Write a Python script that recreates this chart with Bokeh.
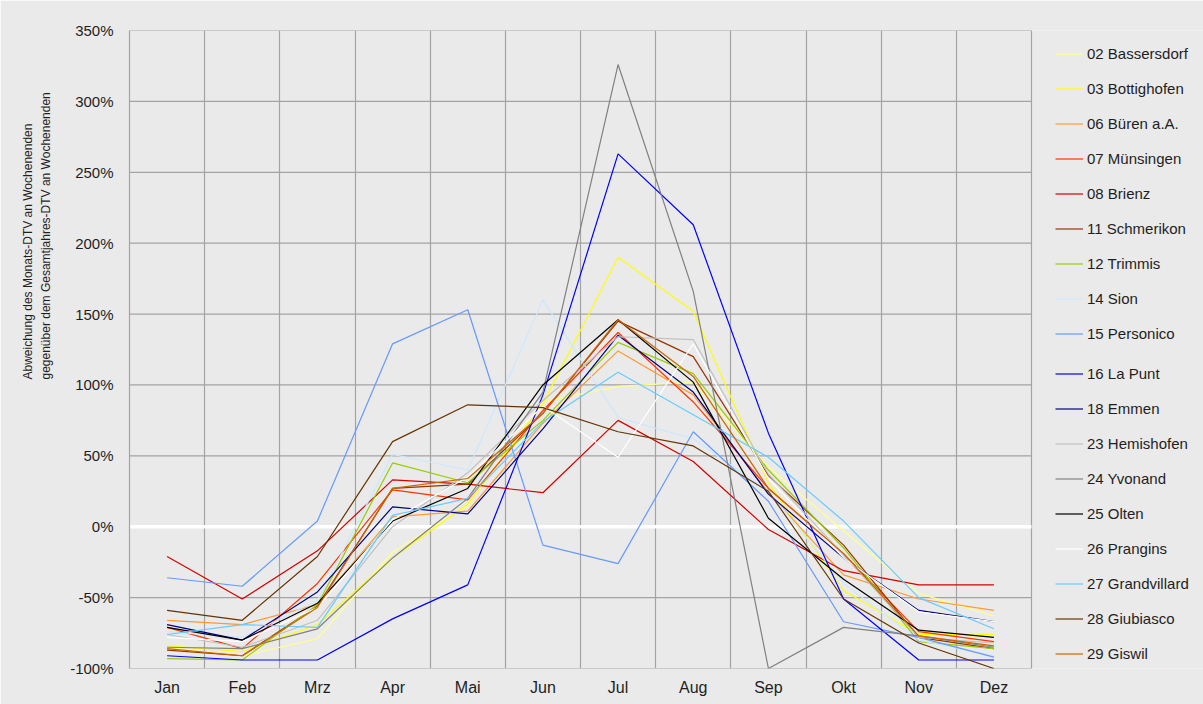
from bokeh.plotting import figure
from bokeh.models import Range1d, FixedTicker, PrintfTickFormatter, Legend, LegendItem, Title
from bokeh.embed import file_html
from bokeh.resources import INLINE

months = ["Jan", "Feb", "Mrz", "Apr", "Mai", "Jun", "Jul", "Aug", "Sep", "Okt", "Nov", "Dez"]

names = ["02 Bassersdorf", "03 Bottighofen", "06 Büren a.A.", "07 Münsingen", "08 Brienz",
         "11 Schmerikon", "12 Trimmis", "14 Sion", "15 Personico", "16 La Punt", "18 Emmen",
         "23 Hemishofen", "24 Yvonand", "25 Olten", "26 Prangins", "27 Grandvillard",
         "28 Giubiasco", "29 Giswil"]

colors = ["#FFFF8C", "#FFFF00", "#FF9933", "#FF3300", "#D40000", "#993300", "#99CC00",
          "#CCE8FF", "#6699FF", "#0000FF", "#000080", "#C0C0C0", "#808080", "#000000",
          "#FFFFFF", "#66CCFF", "#663300", "#CC6600"]

bassersdorf = [-85, -91, -79, -18, 15, 88, 99, 102, 42, -3, -47, -63]
bottighofen = [-84, -88, -69, -22, 16, 87, 190, 152, 31, -45, -76, -76]
bueren = [-66, -69, -55, 7, 11, 73, 124, 93, 24, -34, -51, -59]
muensingen = [-71, -86, -40, 26, 19, 82, 137, 88, 27, -19, -74, -81]
brienz = [-21, -51, -17, 33, 30, 24, 75, 46, -2, -31, -41, -41]
schmerikon = [-87, -91, -56, 27, 30, 80, 145, 120, 36, -13, -78, -86]
trimmis = [-93, -94, -55, 45, 31, 75, 130, 108, 40, -15, -81, -86]
sion = [-74, -78, -52, 51, 40, 160, 77, 62, 25, -40, -80, -91]
personico = [-36, -42, 4, 129, 153, -13, -26, 67, 18, -67, -78, -92]
lapunt = [-91, -94, -94, -65, -41, 93, 263, 213, 66, -51, -94, -94]
emmen = [-69, -80, -46, 14, 9, 69, 135, 95, 23, -22, -59, -67]
hemishofen = [-76, -85, -66, 0, 38, 89, 134, 132, 37, -20, -78, -82]
yvonand = [-85, -86, -72, -22, 20, 95, 326, 166, -100, -71, -77, -85]
olten = [-71, -80, -54, 4, 27, 100, 146, 102, 6, -37, -73, -78]
prangins = [-78, -81, -57, 5, 35, 85, 49, 129, 34, -22, -60, -67]
grandvillard = [-76, -69, -71, 8, 20, 74, 109, 79, 49, 4, -50, -72]
giubiasco = [-59, -66, -21, 60, 86, 84, 67, 57, 25, -51, -82, -100]
giswil = [-86, -91, -57, 27, 34, 80, 146, 106, 27, -19, -77, -84]

series = [bassersdorf, bottighofen, bueren, muensingen, brienz, schmerikon, trimmis, sion,
          personico, lapunt, emmen, hemishofen, yvonand, olten, prangins, grandvillard,
          giubiasco, giswil]

y_ticks = [-100, -50, 0, 50, 100, 150, 200, 250, 300, 350]

y_title_1 = "Abweichung des Monats-DTV an Wochenenden"
y_title_2 = "gegenüber dem Gesamtjahres-DTV an Wochenenden"

BG = "#EAEAEA"
GRID = "#A3A3A3"
TXT = "#1E1E1E"
FONT = "Liberation Sans"

W, H = 1203, 704
LEFT, TOP, BOTTOM = 129, 30, 36
DATA_RIGHT = 1031          # pixel where the month area ends; legend lives to its right
n = len(months)
x_end = n * (W - LEFT) / (DATA_RIGHT - LEFT)

x = [i + 0.5 for i in range(n)]

p = figure(width=W, height=H, output_backend="svg", toolbar_location=None,
           x_range=Range1d(0, x_end), y_range=Range1d(y_ticks[0], y_ticks[-1]),
           min_border_left=LEFT, min_border_right=0, min_border_top=TOP, min_border_bottom=BOTTOM)

p.background_fill_color = BG
p.border_fill_color = BG
p.outline_line_color = None

# vertical grid at month boundaries
p.xgrid.ticker = FixedTicker(ticks=list(range(n + 1)))
p.xgrid.grid_line_color = GRID
p.xgrid.grid_line_width = 1.2
p.ygrid.visible = False

# horizontal grid limited to the month area
p.segment(x0=[0] * len(y_ticks), x1=[n] * len(y_ticks), y0=y_ticks, y1=y_ticks,
          line_color=GRID, line_width=1.2)
# white zero line
p.segment(x0=[0], x1=[n], y0=[0], y1=[0], line_color="white", line_width=3.5)

# axes
p.xaxis.ticker = FixedTicker(ticks=x)
p.xaxis.major_label_overrides = {xi: m for xi, m in zip(x, months)}
p.xaxis.axis_line_color = None
p.yaxis.ticker = FixedTicker(ticks=y_ticks)
p.yaxis.formatter = PrintfTickFormatter(format="%d%%")
p.yaxis.axis_line_color = GRID
p.yaxis.axis_line_width = 1.2
for ax in (p.xaxis, p.yaxis):
    ax.major_tick_line_color = None
    ax.minor_tick_line_color = None
    ax.major_tick_out = 0
    ax.major_tick_in = 0
    ax.minor_tick_out = 0
    ax.minor_tick_in = 0
    ax.major_label_text_font = FONT
    ax.major_label_text_color = TXT
p.xaxis.major_label_text_font_size = "16px"
p.xaxis.major_label_standoff = 10
p.yaxis.major_label_text_font_size = "15px"
p.yaxis.major_label_standoff = 16

# y axis title (two lines) as a left-side title, shifted upwards like the original
yt = Title(text=y_title_1 + "\n" + y_title_2, align="left", offset=289, standoff=29,
           text_font=FONT, text_font_size="12px", text_font_style="normal",
           text_color=TXT, text_line_height=1.32)
p.add_layout(yt, "left")

renderers = []
for vals, c in zip(series, colors):
    r = p.line(x, vals, line_color=c, line_width=1.2)
    renderers.append(r)

items = [LegendItem(label=nm, renderers=[r]) for nm, r in zip(names, renderers)]


def make_legend(its, loc):
    lg = Legend(items=its, location=loc)
    lg.margin = 0
    lg.padding = 0
    lg.spacing = 14
    lg.label_height = 21
    lg.glyph_height = 21
    lg.glyph_width = 28
    lg.label_standoff = 4
    lg.border_line_color = None
    lg.background_fill_alpha = 0
    lg.label_text_font = FONT
    lg.label_text_font_size = "15px"
    lg.label_text_color = TXT
    return lg


leg_x = 1055 - LEFT
p.add_layout(make_legend(items[:9], (leg_x, 324)))
p.add_layout(make_legend(items[9:], (leg_x, 4)))

open("out.html", "w").write(file_html(p, INLINE))
